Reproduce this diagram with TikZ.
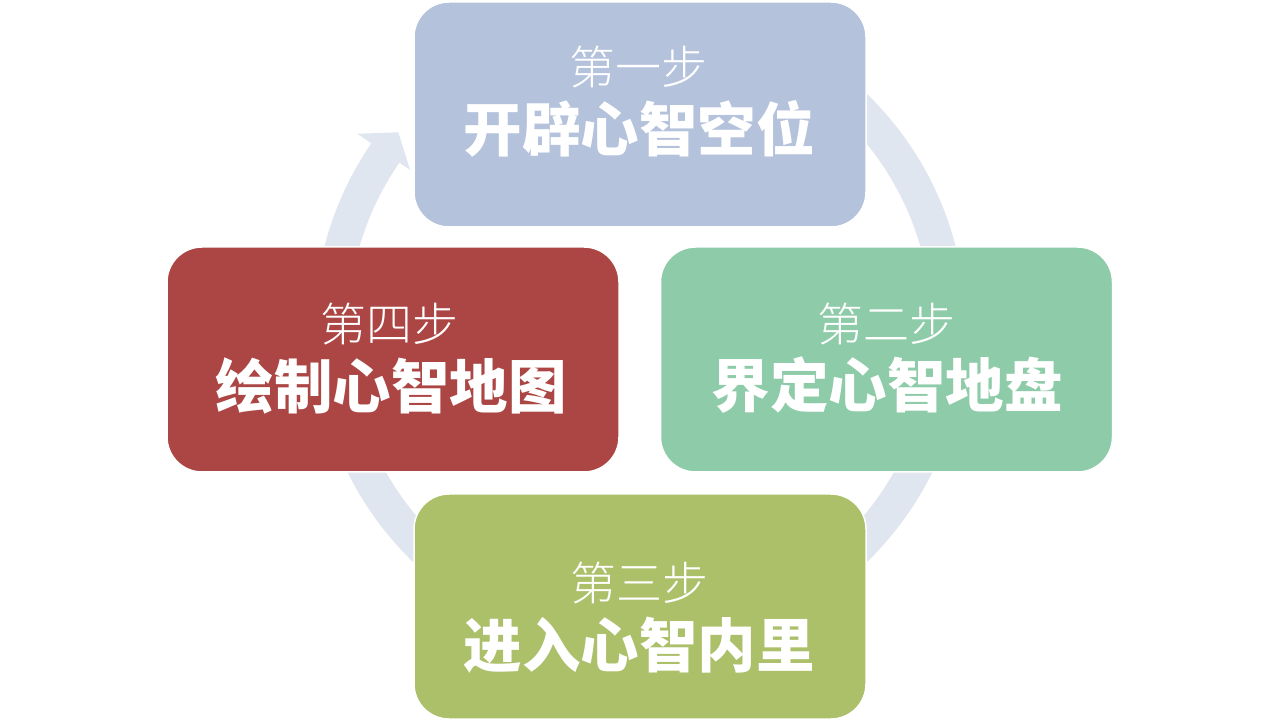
\documentclass[tikz,border=0pt]{standalone}
\usepackage{fontspec}
\newfontfamily\cjk{Noto Sans CJK SC}
\newfontfamily\cjklight{Noto Sans CJK SC Light}
\definecolor{ringc}{RGB}{224,230,240}
\definecolor{c1}{RGB}{180,194,220}
\definecolor{c2}{RGB}{142,203,168}
\definecolor{c3}{RGB}{172,191,105}
\definecolor{c4}{RGB}{172,70,68}
\tikzset{
  stepbox/.style={draw=white, line width=1.5pt, rounded corners=35pt,
    minimum width=452pt, minimum height=225pt, inner sep=0pt},
  subtxt/.style={text=white, inner sep=0pt, font=\cjklight\fontsize{46}{52}\selectfont},
  titletxt/.style={text=white, inner sep=0pt, font=\cjk\bfseries\fontsize{58.5}{64}\selectfont}
}
\begin{document}
\begin{tikzpicture}[x=1pt,y=1pt]
\useasboundingbox (0,0) rectangle (1280,721);
% ring with arrow
\begin{scope}[shift={(640,393)}]
\fill[ringc] (95:326) arc[start angle=95, end angle=-214.5, radius=326]
  -- (-214.5:343) -- (-219:311) -- (-214.5:279) -- (-214.5:292)
  arc[start angle=-214.5, end angle=95, radius=292] -- cycle;
\end{scope}
% boxes
\node[stepbox, fill=c1] (b1) at (640,606.5) {};
\node[stepbox, fill=c2] (b2) at (886.5,361.5) {};
\node[stepbox, fill=c3] (b3) at (640,114.5) {};
\node[stepbox, fill=c4] (b4) at (393,361.5) {};
% texts
\node[subtxt] (s1) at (638.5,654) {第一步};
\node[titletxt] (t1) at (639,592.5) {开辟心智空位};
\node[subtxt] (s2) at (886,396.5) {第二步};
\node[titletxt] (t2) at (887,335.5) {界定心智地盘};
\node[subtxt] (s3) at (639.5,137.5) {第三步};
\node[titletxt] (t3) at (639,75.5) {进入心智内里};
\node[subtxt] (s4) at (389.5,396.5) {第四步};
\node[titletxt] (t4) at (391,335.5) {绘制心智地图};
\end{tikzpicture}
\end{document}
